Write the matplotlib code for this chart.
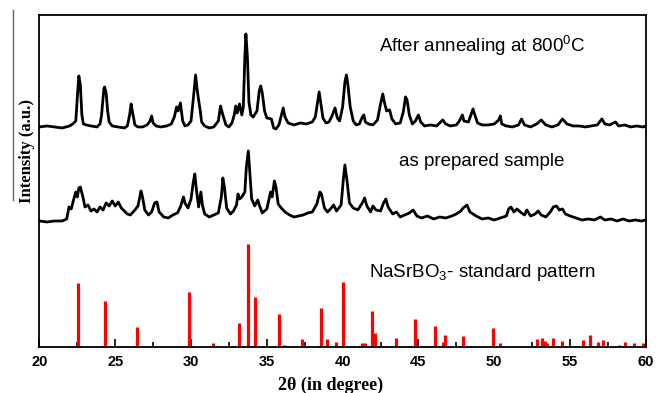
import matplotlib
matplotlib.use("Agg")
import matplotlib.pyplot as plt
from matplotlib.lines import Line2D

plt.rcParams['mathtext.fontset'] = 'custom'
plt.rcParams['mathtext.rm'] = 'Liberation Sans'
plt.rcParams['mathtext.it'] = 'Liberation Sans'

# after annealing at 800 C (top trace)
ann_x = [20.0, 20.5, 21.0, 21.5, 22.0, 22.2, 22.4, 22.5, 22.6, 22.7, 22.8, 22.9, 23.1, 23.4, 23.8,
         24.0, 24.1, 24.25, 24.3, 24.4, 24.5, 24.6, 24.8, 25.2, 25.6, 25.8, 25.95, 26.05, 26.15, 26.3,
         26.5, 26.8, 27.1, 27.3, 27.4, 27.5, 27.7, 28.0, 28.4, 28.7, 28.9, 29.05, 29.15, 29.3, 29.45,
         29.6, 29.8, 30.0, 30.15, 30.3, 30.4, 30.5, 30.6, 30.7, 30.9, 31.2, 31.5, 31.8, 31.95, 32.1,
         32.3, 32.5, 32.7, 32.85, 32.95, 33.05, 33.2, 33.35, 33.45, 33.55, 33.62, 33.72, 33.82, 33.95,
         34.1, 34.35, 34.5, 34.6, 34.7, 34.85, 35.0, 35.3, 35.45, 35.6, 35.8, 35.95, 36.08, 36.2, 36.4,
         36.8, 37.2, 37.6, 38.0, 38.2, 38.35, 38.45, 38.55, 38.7, 38.9, 39.1, 39.3, 39.5, 39.65, 39.8,
         40.0, 40.15, 40.25, 40.35, 40.5, 40.7, 40.9, 41.1, 41.3, 41.4, 41.5, 41.7, 42.0, 42.3, 42.5,
         42.65, 42.75, 42.9, 43.1, 43.25, 43.5, 43.8, 44.0, 44.15, 44.25, 44.4, 44.6, 44.8, 45.0, 45.15,
         45.4, 45.8, 46.2, 46.6, 46.8, 47.1, 47.5, 47.7, 47.9, 48.0, 48.3, 48.6, 48.7, 48.9, 49.2,
         49.6, 50.0, 50.3, 50.4, 50.5, 50.8, 51.2, 51.6, 51.8, 52.0, 52.4, 52.8, 53.1, 53.4, 53.8,
         54.2, 54.5, 54.8, 55.2, 55.6, 56.0, 56.4, 56.8, 57.1, 57.3, 57.6, 58.0, 58.2, 58.6, 59.0,
         59.4, 59.8, 60.0]
ann_y = [220, 221, 220, 219, 221, 223, 226, 250, 271, 262, 232, 223, 222, 221, 220,
         223, 232, 258, 260, 254, 236, 225, 221, 220, 219, 221, 232, 243, 234, 222,
         220, 220, 222, 226, 231, 224, 221, 220, 221, 223, 230, 240, 236, 244, 226,
         221, 222, 226, 248, 272, 258, 247, 237, 225, 221, 219, 220, 226, 241, 232,
         222, 220, 224, 232, 241, 234, 243, 232, 240, 290, 313, 290, 245, 232,
         230, 236, 256, 261, 254, 236, 229, 228, 219, 218, 222, 231, 239, 230, 224,
         222, 224, 223, 225, 230, 245, 255, 245, 229, 224, 225, 231, 239, 229, 226,
         240, 265, 272, 262, 240, 226, 222, 223, 230, 232, 225, 223, 222, 227, 243,
         253, 245, 236, 237, 228, 223, 224, 235, 250, 247, 232, 223, 226, 232, 225,
         221, 222, 221, 227, 223, 221, 222, 226, 232, 226, 225, 238, 233, 224, 222,
         222, 223, 227, 231, 223, 221, 220, 222, 228, 222, 220, 223, 227, 222, 220,
         222, 228, 223, 221, 221, 220, 221, 222, 228, 223, 222, 225, 221, 222, 220,
         221, 220, 221]

# as prepared sample (middle trace)
prep_x = [20.0, 20.5, 21.0, 21.5, 21.8, 21.95, 22.1, 22.25, 22.4, 22.5, 22.6, 22.7, 22.8, 22.9, 23.0,
          23.2, 23.4, 23.6, 23.8, 24.0, 24.2, 24.4, 24.6, 24.8, 25.0, 25.2, 25.4, 25.6, 25.8, 26.0,
          26.3, 26.5, 26.7, 26.8, 26.95, 27.2, 27.4, 27.6, 27.75, 27.9, 28.2, 28.5, 28.8, 29.1, 29.3,
          29.5, 29.6, 29.8, 30.0, 30.15, 30.25, 30.35, 30.5, 30.65, 30.75, 30.9, 31.2, 31.5, 31.8, 32.0,
          32.1, 32.2, 32.35, 32.6, 32.8, 33.0, 33.1, 33.2, 33.35, 33.55, 33.65, 33.78, 33.9, 34.0, 34.2,
          34.4, 34.5, 34.7, 35.0, 35.25, 35.35, 35.5, 35.6, 35.75, 35.95, 36.2, 36.5, 36.8, 37.1, 37.4,
          37.7, 38.0, 38.3, 38.5, 38.6, 38.8, 39.0, 39.2, 39.4, 39.6, 39.9, 40.05, 40.15, 40.3, 40.45,
          40.7, 41.0, 41.3, 41.45, 41.6, 41.85, 42.0, 42.2, 42.5, 42.7, 42.85, 43.0, 43.3, 43.55, 43.8,
          44.1, 44.4, 44.65, 44.9, 45.2, 45.6, 46.0, 46.4, 46.8, 47.2, 47.5, 47.8, 47.95, 48.2, 48.4,
          48.8, 49.2, 49.6, 50.0, 50.4, 50.8, 50.95, 51.1, 51.3, 51.5, 51.8, 52.0, 52.15, 52.4, 52.7,
          52.9, 53.1, 53.4, 53.7, 53.9, 54.1, 54.3, 54.5, 54.7, 55.0, 55.4, 55.8, 56.2, 56.6, 57.0,
          57.3, 57.7, 58.1, 58.5, 58.9, 59.3, 59.7, 60.0]
prep_y = [126, 125, 126, 126, 128, 140, 138, 147, 155, 150, 159, 160, 154, 148, 140,
          142, 136, 138, 135, 140, 137, 144, 141, 146, 141, 145, 139, 136, 133, 132,
          137, 141, 156, 150, 137, 132, 135, 144, 145, 135, 130, 129, 132, 134, 140,
          150, 144, 139, 148, 165, 173, 158, 140, 155, 142, 133, 130, 132, 134, 150,
          169, 160, 139, 133, 136, 142, 153, 148, 150, 155, 180, 196, 170, 148, 141,
          147, 142, 134, 138, 155, 150, 166, 160, 143, 139, 135, 132, 130, 131, 132,
          134, 135, 143, 155, 153, 139, 135, 138, 142, 136, 142, 168, 182, 165, 144,
          139, 137, 144, 149, 141, 135, 141, 137, 136, 144, 148, 140, 133, 135, 130,
          132, 134, 137, 131, 129, 131, 128, 130, 129, 131, 133, 136, 139, 142, 135,
          131, 128, 129, 127, 129, 131, 138, 140, 135, 138, 134, 132, 137, 131, 133,
          136, 132, 130, 135, 140, 141, 137, 138, 133, 131, 129, 127, 128, 127, 130,
          127, 128, 126, 128, 126, 127, 126, 127]

# NaSrBO3 standard pattern (bar positions and heights)
std_pos = [22.52, 23.1, 23.9, 24.34, 25.4, 25.7, 26.17, 26.43, 28.17, 29.2,
           29.88, 31.47, 32.68, 33.14, 33.78, 34.24, 35.82, 36.13, 36.35, 37.3,
           38.28, 38.6, 38.98, 39.53, 40.04, 40.66, 41.3, 41.45, 41.95, 42.13,
           42.79, 43.52, 44.44, 44.77, 45.5, 46.09, 46.65, 46.75, 47.96, 49.93,
           50.38, 51.15, 51.48, 52.8, 53.13, 53.35, 53.46, 53.9, 54.45, 55.87,
           56.31, 56.86, 57.15, 58.23, 58.62, 59.24, 59.83]
std_h = [64, 1.5, 1.5, 46, 1.5, 1.5, 1.5, 20, 1.5, 1.5,
         55, 4, 1.5, 24, 103, 50, 33, 2, 1.5, 8,
         1.5, 39, 8, 5, 65, 1.5, 4, 4, 36, 14,
         1.5, 9, 1.5, 28, 1.5, 21, 5, 12, 11, 19,
         4, 1.5, 1.5, 8, 9, 6, 4, 9, 6, 7,
         12, 5, 7, 2, 5, 4, 4]

xticks = [20, 25, 30, 35, 40, 45, 50, 55, 60]

fig = plt.figure(figsize=(6.57, 3.93), dpi=100)
ax = fig.add_axes([0.060, 0.117, 0.923, 0.845])

ax.plot(ann_x, ann_y, color='black', lw=2.0, solid_joinstyle='round')
ax.plot(prep_x, prep_y, color='black', lw=2.0, solid_joinstyle='round')
ax.vlines(std_pos, 0, std_h, color='#ff0000', lw=2.3)

ax.text(49.2, 295, r'After annealing at 800$^{\mathrm{0}}$C', ha='center', va='baseline',
        fontsize=13.5, family='Liberation Sans')
ax.text(49.2, 181, 'as prepared sample', ha='center', va='baseline',
        fontsize=13.5, family='Liberation Sans')
ax.text(49.2, 70, r'NaSrBO$_{\mathrm{3}}$- standard pattern', ha='center', va='baseline',
        fontsize=13.5, family='Liberation Sans')

ax.set_xlim(20, 60)
ax.set_ylim(0, 332)
ax.set_xticks(xticks)
ax.set_xticks([22.5, 27.5, 32.5, 37.5, 42.5, 47.5, 52.5, 57.5], minor=True)
ax.set_yticks([])
ax.tick_params(axis='x', which='major', direction='in', length=6, width=1.2, pad=6)
ax.tick_params(axis='x', which='minor', direction='in', length=3.5, width=1.2)
for lab in ax.get_xticklabels():
    lab.set_fontweight('bold')
    lab.set_fontsize(10.5)
    lab.set_family('Liberation Sans')
for s in ax.spines.values():
    s.set_linewidth(1.3)

ax.set_xlabel(r'2θ (in degree)', fontsize=13, fontweight='bold', family='Liberation Serif')
ax.xaxis.set_label_coords(0.48, -0.088)
ax.set_ylabel('Intensity (a.u.)', fontsize=12, fontweight='bold', family='Liberation Serif')
ax.yaxis.set_label_coords(-0.008, 0.59)

fig.add_artist(Line2D([13 / 657, 13 / 657], [1 - 10 / 393, 1 - 200 / 393],
                      color='#666666', lw=1))

plt.savefig('out.png', dpi=100)
